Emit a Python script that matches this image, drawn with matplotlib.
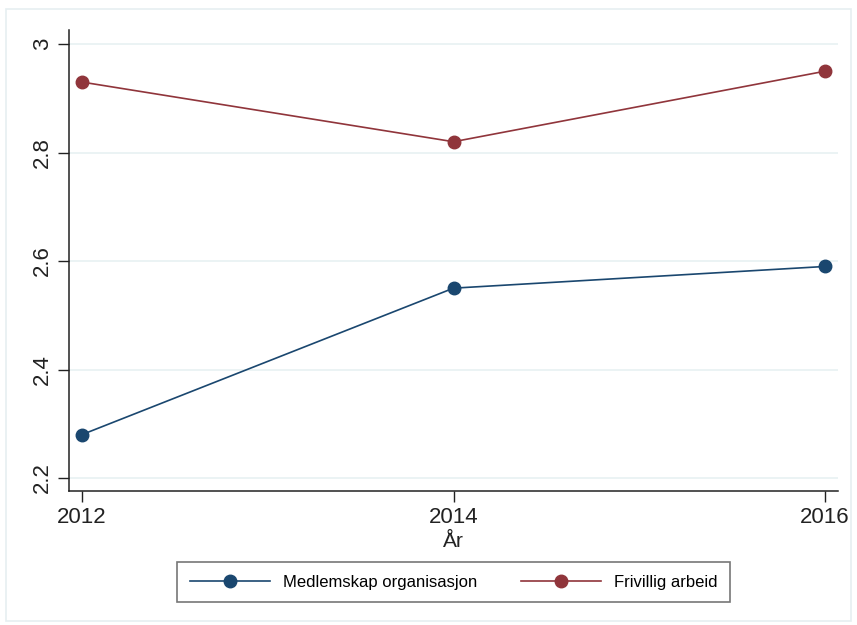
import matplotlib
matplotlib.use("Agg")
import matplotlib.pyplot as plt
from matplotlib.patches import Rectangle

# --- data ---
years = [2012, 2014, 2016]
medlemskap = [2.28, 2.55, 2.59]
frivillig = [2.93, 2.82, 2.95]
labels = ["Medlemskap organisasjon", "Frivillig arbeid"]
y_ticks = [2.2, 2.4, 2.6, 2.8, 3.0]
y_ticklabels = ["2.2", "2.4", "2.6", "2.8", "3"]

BLUE = "#1a476f"
RED = "#90353b"
GRID = "#e8f1f2"

plt.rcParams['font.family'] = ['Liberation Sans', 'DejaVu Sans']

fig = plt.figure(figsize=(8.57, 6.25), dpi=100)
fig.patch.set_facecolor("white")
# outer light frame
fig.patches.append(Rectangle((6 / 857, 1 - 621 / 625), 845 / 857, 612 / 625,
                             transform=fig.transFigure, fill=False,
                             edgecolor="#e6eff1", linewidth=1.2))

ax = fig.add_axes([69 / 857, 1 - 491 / 625, (838 - 69) / 857, (491 - 30) / 625])

ax.plot(years, medlemskap, color=BLUE, lw=1.2, marker="o", ms=9, label=labels[0])
ax.plot(years, frivillig, color=RED, lw=1.2, marker="o", ms=9, label=labels[1])

ax.set_xlim(2011.93, 2016.07)
ax.set_ylim(2.176, 3.026)
ax.set_xticks(years)
ax.set_xticklabels([str(y) for y in years], fontsize=16)
ax.set_yticks(y_ticks)
ax.set_yticklabels(y_ticklabels, fontsize=16, rotation=90, va="center")
ax.grid(axis="y", color=GRID, lw=1.2)
ax.set_axisbelow(True)
ax.tick_params(direction="out", length=8, width=1, color="#222222", labelcolor="#222222")
for side in ["top", "right"]:
    ax.spines[side].set_visible(False)
for side in ["left", "bottom"]:
    ax.spines[side].set_color("#222222")
    ax.spines[side].set_linewidth(1.1)

ax.set_xlabel("År", fontsize=15, color="#222222", labelpad=3)

leg = fig.legend(loc="center", bbox_to_anchor=(453.5 / 857, 1 - 582 / 625), ncol=2,
                 fontsize=12, frameon=True, fancybox=False, handlelength=4.8,
                 columnspacing=2.6, borderpad=0.75, handletextpad=0.8)
leg.get_frame().set_edgecolor("#555555")
leg.get_frame().set_linewidth(1.2)

fig.savefig("out.png", dpi=100, facecolor="white")
